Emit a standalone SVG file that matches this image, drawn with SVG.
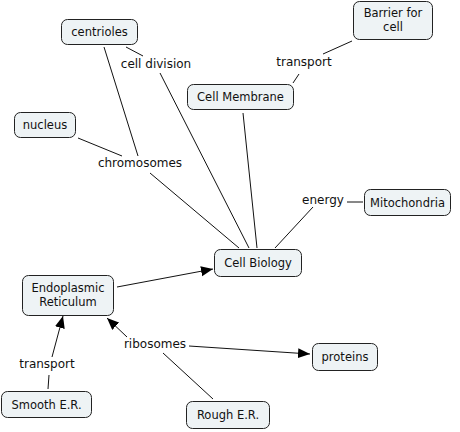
<svg xmlns="http://www.w3.org/2000/svg" width="460" height="432" viewBox="0 0 460 432">
<style>
.n rect{fill:#eef3f5;stroke:#222;stroke-width:1}
text{font-family:"DejaVu Sans",Verdana,sans-serif;font-size:12px;fill:#111;text-anchor:middle}
.n text{font-size:11.5px}
.c line{stroke:#111;stroke-width:1}
</style>
<defs>
<marker id="ah" markerUnits="userSpaceOnUse" markerWidth="13" markerHeight="11" refX="12" refY="5" orient="auto">
<path d="M0,0 L12,5 L0,10 z" fill="#000"/>
</marker>
</defs>
<rect width="460" height="432" fill="#fff"/>
<g class="c">
<line x1="126" y1="47" x2="143" y2="56"/>
<line x1="160" y1="73" x2="249" y2="248"/>
<line x1="243" y1="113" x2="257" y2="248"/>
<line x1="293" y1="83" x2="299" y2="74"/>
<line x1="323" y1="54" x2="352" y2="41"/>
<line x1="78" y1="138" x2="122" y2="156"/>
<line x1="104" y1="47" x2="138" y2="156"/>
<line x1="150" y1="173" x2="239" y2="248"/>
<line x1="347" y1="202" x2="363" y2="202"/>
<line x1="313" y1="207" x2="275" y2="248"/>
<line x1="117" y1="287" x2="213" y2="269" marker-end="url(#ah)"/>
<line x1="127" y1="337" x2="107" y2="318" marker-end="url(#ah)"/>
<line x1="189" y1="346" x2="310" y2="354" marker-end="url(#ah)"/>
<line x1="163" y1="353" x2="213" y2="399"/>
<line x1="48" y1="389" x2="49" y2="375"/>
<line x1="52" y1="357" x2="63" y2="316" marker-end="url(#ah)"/>
</g>
<g id="labels">
<text x="156" y="68">cell division</text>
<text x="304" y="66">transport</text>
<text x="140" y="167">chromosomes</text>
<text x="323" y="204">energy</text>
<text x="155" y="348">ribosomes</text>
<text x="47" y="368">transport</text>
</g>
<g id="centrioles" class="n"><rect x="61.5" y="19.5" width="76" height="25" rx="6"/><text x="99.5" y="36">centrioles</text></g>
<g id="barrier" class="n"><rect x="353.5" y="1.5" width="79" height="38" rx="6"/><text x="393" y="17">Barrier for</text><text x="393" y="31">cell</text></g>
<g id="cellmembrane" class="n"><rect x="187.5" y="84.5" width="106" height="25" rx="6"/><text x="240.5" y="101">Cell Membrane</text></g>
<g id="nucleus" class="n"><rect x="14.5" y="112.5" width="61" height="25" rx="6"/><text x="45" y="129">nucleus</text></g>
<g id="mitochondria" class="n"><rect x="364.5" y="189.5" width="86" height="26" rx="6"/><text x="407.5" y="207">Mitochondria</text></g>
<g id="cellbiology" class="n"><rect x="214.5" y="249.5" width="87" height="27" rx="6"/><text x="258" y="267">Cell Biology</text></g>
<g id="er" class="n"><rect x="22.5" y="275.5" width="91" height="40" rx="6"/><text x="68" y="292">Endoplasmic</text><text x="68" y="306">Reticulum</text></g>
<g id="proteins" class="n"><rect x="312.5" y="343.5" width="65" height="27" rx="6"/><text x="345" y="361">proteins</text></g>
<g id="smoother" class="n"><rect x="1.5" y="391.5" width="90" height="26" rx="6"/><text x="46.5" y="409">Smooth E.R.</text></g>
<g id="roughder" class="n"><rect x="186.5" y="401.5" width="83" height="27" rx="6"/><text x="228" y="419">Rough E.R.</text></g>
</svg>
